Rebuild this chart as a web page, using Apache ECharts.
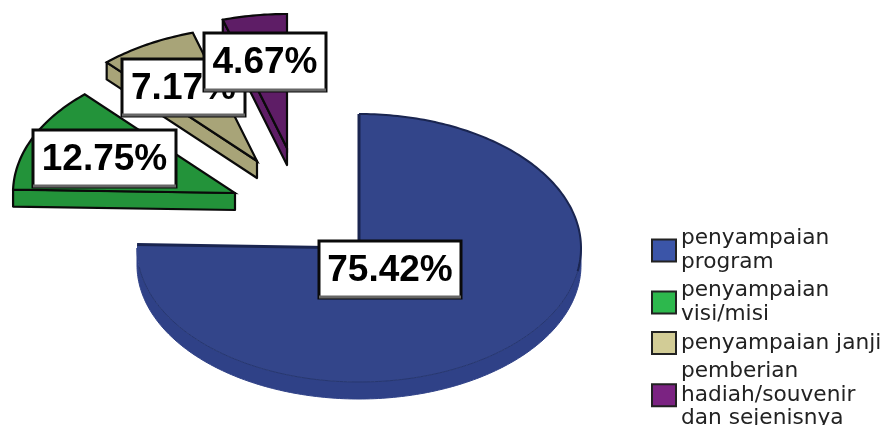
<!DOCTYPE html>
<html><head><meta charset="utf-8">
<style>html,body{margin:0;padding:0;background:#fff;overflow:hidden}#main{width:882px;height:425px;filter:blur(0.45px)}</style>
<script src="https://cdn.jsdelivr.net/npm/echarts@6/dist/echarts.min.js"></script>
</head><body><div id="main"></div>
<script>
// data
const categories = ['penyampaian program', 'penyampaian visi/misi', 'penyampaian janji', 'pemberian hadiah/souvenir dan sejenisnya'];
const legendLabels = ['penyampaian\nprogram', 'penyampaian\nvisi/misi', 'penyampaian janji', 'pemberian\nhadiah/souvenir\ndan sejenisnya'];
const shares = [75.42, 12.75, 7.17, 4.67];
// styling and layout
const topColors = ['#33458a', '#23933a', '#a8a478', '#5e1d66'];
const legendColors = ['#3b55a8', '#2db84d', '#d2cc96', '#7b2382'];
const sliceCenters = [[359, 248], [235, 193], [257, 161], [287, 148]];
const labelBoxes = [[319, 241, 142, 57], [33, 130, 143, 57], [122, 59, 123, 57], [204, 33, 122, 58]];
const RX = 222, RY = 134, DEPTH = 17;

const total = shares.reduce((a, b) => a + b, 0);
function pt(c, deg, dy) {
  const r = deg * Math.PI / 180;
  return [c[0] + RX * Math.sin(r), c[1] - RY * Math.cos(r) + (dy || 0)];
}
function arc(c, from, to, dy) {
  const out = [];
  const n = Math.max(2, Math.ceil(Math.abs(to - from)));
  for (let i = 0; i <= n; i++) out.push(pt(c, from + (to - from) * i / n, dy));
  return out;
}
function renderSlice(idx) {
  return function (params, api) {
    const value = api.value(0);
    let before = 0;
    for (let i = 0; i < idx; i++) before += shares[i];
    const a0 = before / total * 360, a1 = (before + value) / total * 360;
    const c = sliceCenters[idx], fill = topColors[idx];
    const main = idx === 0;
    const line = main ? '#1a2550' : '#0a0a0a';
    const wallLine = main ? '#27376f' : '#0a0a0a';
    const kids = [];
    const lw = main ? 2 : 2.2;
    // outer wall on the front half of the ellipse
    const wf = Math.max(a0, 90), wt = Math.min(a1, 270);
    if (wt > wf) {
      const upper = arc(c, wf, wt, 0), lower = arc(c, wt, wf, DEPTH);
      kids.push({ type: 'polygon', shape: { points: upper.concat(lower) },
        style: { fill: main ? '#2f4187' : fill, stroke: main ? '#2f4187' : line, lineWidth: main ? 1 : lw } });
    }
    // cut face along the starting edge
    if (Math.sin(a0 * Math.PI / 180) < -1e-6) {
      const p = pt(c, a0);
      kids.push({ type: 'polygon', shape: { points: [c, p, [p[0], p[1] + DEPTH], [c[0], c[1] + DEPTH]] },
        style: { fill: fill, stroke: line, lineWidth: lw, lineJoin: 'round' } });
    }
    // top face
    const rim = arc(c, a0, a1, 0);
    kids.push({ type: 'polygon', shape: { points: [c].concat(rim) },
      style: { fill: fill, stroke: main ? null : line, lineWidth: lw } });
    if (main) {
      kids.push({ type: 'polyline', shape: { points: arc(c, 0, 100, 0) }, style: { fill: null, stroke: line, lineWidth: lw } });
      kids.push({ type: 'polyline', shape: { points: arc(c, 100, 262, 0) }, style: { fill: null, stroke: wallLine, lineWidth: 1 } });
      kids.push({ type: 'polyline', shape: { points: [pt(c, a1), c, pt(c, 0)] }, style: { fill: null, stroke: line, lineWidth: 3 } });
    }
    return { type: 'group', children: kids };
  };
}
function renderLabel(idx) {
  return function (params, api) {
    const b = labelBoxes[idx];
    return { type: 'group', children: [
      { type: 'rect', shape: { x: b[0], y: b[1], width: b[2], height: b[3] },
        style: { fill: '#fff', stroke: '#0a0a0a', lineWidth: 3 } },
      { type: 'line', shape: { x1: b[0], y1: b[1] + b[3] - 1, x2: b[0] + b[2], y2: b[1] + b[3] - 1 },
        style: { stroke: '#666', lineWidth: 3 } },
      { type: 'text', x: b[0] + b[2] / 2, y: b[1] + b[3] / 2 + 1,
        style: { text: api.value(0).toFixed(2) + '%', fill: '#000', align: 'center', verticalAlign: 'middle',
          font: 'bold 37px "Liberation Sans"' } }
    ] };
  };
}
const series = [];
categories.forEach((name, i) => {
  series.push({ type: 'custom', name, coordinateSystem: 'none', silent: true, z: 2 + i,
    itemStyle: { color: legendColors[i] }, renderItem: renderSlice(i), data: [[shares[i]]] });
});
categories.forEach((name, i) => {
  series.push({ type: 'custom', name: name + ' label', coordinateSystem: 'none', silent: true, z: 10 + i,
    renderItem: renderLabel(i), data: [[shares[i]]] });
});
const chart = echarts.init(document.getElementById('main'), null, { renderer: 'canvas' });
chart.setOption({
  animation: false,
  backgroundColor: '#fff',
  legend: {
    orient: 'vertical', left: 651, top: 227, width: 231, height: 300, padding: 0, itemWidth: 24, itemHeight: 22, itemGap: 5,
    selectedMode: false,
    data: categories.map((name, i) => ({ name, icon: 'rect', itemStyle: { color: legendColors[i], borderColor: '#222', borderWidth: 2 } })),
    formatter: name => legendLabels[categories.indexOf(name)],
    textStyle: { fontFamily: 'DejaVu Sans', fontSize: 21.7, lineHeight: 23.5, color: '#222' }
  },
  series
});
</script></body></html>
